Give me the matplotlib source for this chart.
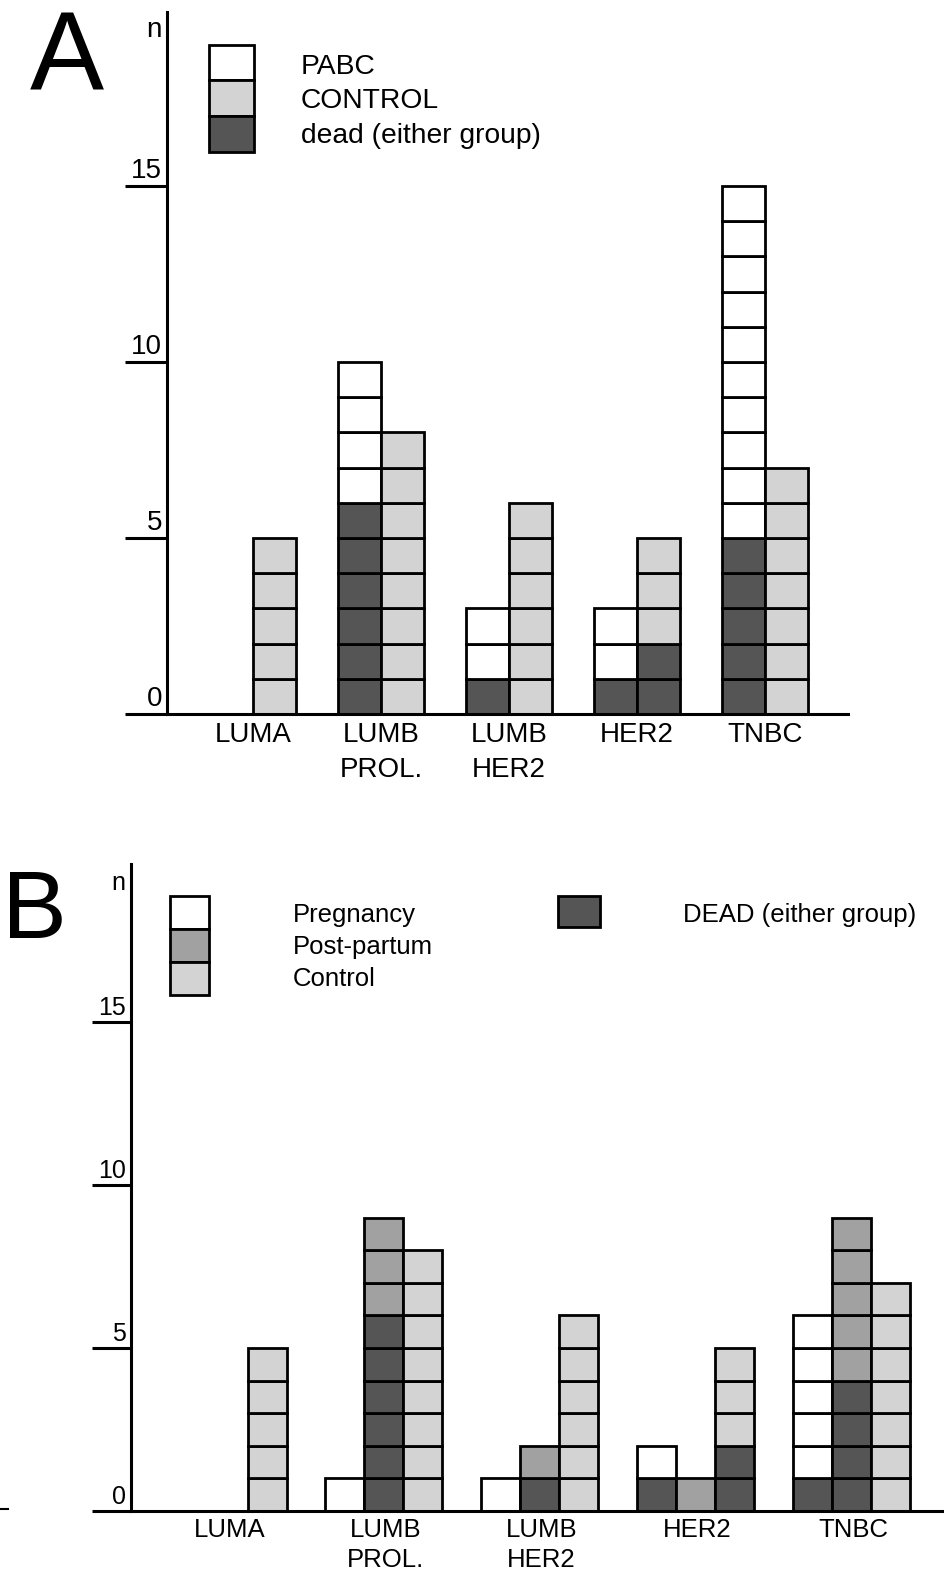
import matplotlib
matplotlib.use("Agg")
import matplotlib.pyplot as plt
from matplotlib.lines import Line2D

plt.rcParams['font.family'] = ['Liberation Sans', 'DejaVu Sans']

W, H = 944, 1573

# ---------------- data ----------------
categories = ['LUMA', 'LUMB\nPROL.', 'LUMB\nHER2', 'HER2', 'TNBC']
y_ticks = [0, 5, 10, 15]

# Panel A
pabc_total = [0, 10, 3, 3, 15]
pabc_dead = [0, 6, 1, 1, 5]
controlA_total = [5, 8, 6, 5, 7]
controlA_dead = [0, 0, 0, 2, 0]
legendA_labels = ['PABC', 'CONTROL', 'dead (either group)']

# Panel B
preg_total = [0, 1, 1, 2, 6]
preg_dead = [0, 0, 0, 1, 1]
pp_total = [0, 9, 2, 1, 9]
pp_dead = [0, 6, 1, 0, 4]
controlB_total = [5, 8, 6, 5, 7]
controlB_dead = [0, 0, 0, 2, 0]
legendB_labels = ['Pregnancy', 'Post-partum', 'Control']
legendB_dead = 'DEAD (either group)'

WHITE = '#ffffff'
LIGHT = '#d3d3d3'
MID = '#a1a1a1'
DARK = '#555555'
LW = 2.0

fig = plt.figure(figsize=(W / 100, H / 100), dpi=100)


def fx(x):
    return x / W


def fy(y):
    return 1 - y / H


def stack(ax, x, width, total, dead, color):
    for k in range(total):
        c = DARK if k < dead else color
        ax.bar(x, 1, width, bottom=k, color=c, edgecolor='black',
               linewidth=LW, zorder=2, clip_on=False)


def setup_axes(left, right, y0, ytop, unit, xlim_l, xlim_r, tick_len_px):
    ax = fig.add_axes([fx(left), fy(y0), (right - left) / W, (y0 - ytop) / H])
    ax.set_xlim(xlim_l, xlim_r)
    ax.set_ylim(0, (y0 - ytop) / unit)
    for s in ('top', 'right'):
        ax.spines[s].set_visible(False)
    for s in ('left', 'bottom'):
        ax.spines[s].set_linewidth(2.2)
        ax.spines[s].set_zorder(3)
    ax.set_yticks(y_ticks)
    ax.set_yticklabels([])
    ax.tick_params(axis='y', direction='out', length=tick_len_px * 0.72,
                   width=2.2)
    ax.set_xticks([])
    ax.patch.set_alpha(0)
    return ax


# ---------------- Panel A ----------------
unitA = 35.2
axA = setup_axes(167, 848, 714, 12, unitA, -0.672, 4.648, 42)
bwA = 43 / 128
for i in range(len(categories)):
    stack(axA, i - bwA / 2, bwA, pabc_total[i], pabc_dead[i], WHITE)
    stack(axA, i + bwA / 2, bwA, controlA_total[i], controlA_dead[i], LIGHT)
    lines = categories[i].split('\n')
    for j, ln in enumerate(lines):
        fig.text(fx(253 + 128 * i), fy(742 + 35 * j), ln, ha='center',
                 va='baseline', fontsize=20)
for v in y_ticks:
    fig.text(fx(162), fy(714 - v * unitA - 8), str(v), ha='right',
             va='baseline', fontsize=20)
fig.text(fx(162), fy(37), 'n', ha='right', va='baseline', fontsize=20)
fig.text(fx(30), fy(90), 'A', ha='left', va='baseline', fontsize=80)

# legend A (in data units)
leg_colors_A = [WHITE, LIGHT, DARK]
for k, c in enumerate(leg_colors_A):
    axA.bar((231.5 - 253) / 128, 1.01, 45 / 128,
            bottom=18.0 - 1.01 * k, color=c, edgecolor='black',
            linewidth=LW, clip_on=False, zorder=2)
for k, lab in enumerate(legendA_labels):
    fig.text(fx(301), fy(74 + 34.5 * k), lab, ha='left', va='baseline',
             fontsize=20.3)

# ---------------- Panel B ----------------
unitB = 32.6
gsB = 155.75
axB = setup_axes(131, 944, 1511, 864, unitB, (131 - 228) / gsB,
                 (944 - 228) / gsB, 39)
bwB = 39 / gsB
for i in range(len(categories)):
    stack(axB, i - bwB, bwB, preg_total[i], preg_dead[i], WHITE)
    stack(axB, i, bwB, pp_total[i], pp_dead[i], MID)
    stack(axB, i + bwB, bwB, controlB_total[i], controlB_dead[i], LIGHT)
    lines = categories[i].split('\n')
    for j, ln in enumerate(lines):
        fig.text(fx(230 + gsB * i), fy(1537 + 30 * j), ln, ha='center',
                 va='baseline', fontsize=18.5)
for v in y_ticks:
    fig.text(fx(126), fy(1511 - v * unitB - 7), str(v), ha='right',
             va='baseline', fontsize=18)
fig.text(fx(125), fy(890), 'n', ha='right', va='baseline', fontsize=18)
fig.text(fx(2), fy(938), 'B', ha='left', va='baseline', fontsize=70)

leg_colors_B = [WHITE, MID, LIGHT]
for k, c in enumerate(leg_colors_B):
    axB.bar((189.5 - 228) / gsB, 1.01, 39 / gsB, bottom=17.85 - 1.01 * k,
            color=c, edgecolor='black', linewidth=LW, clip_on=False, zorder=2)
for k, lab in enumerate(legendB_labels):
    fig.text(fx(293), fy(922 + 32 * k), lab, ha='left', va='baseline',
             fontsize=18.5)
axB.bar((579 - 228) / gsB, 0.95, 42 / gsB, bottom=17.9, color=DARK,
        edgecolor='black', linewidth=LW, clip_on=False, zorder=2)
fig.text(fx(683), fy(922), legendB_dead, ha='left', va='baseline',
         fontsize=18.5)

# small stray mark at left edge of panel B
fig.add_artist(Line2D([fx(0), fx(8)], [fy(1509), fy(1509)], color='black',
                      linewidth=1.5))

fig.savefig('out.png', dpi=100)
